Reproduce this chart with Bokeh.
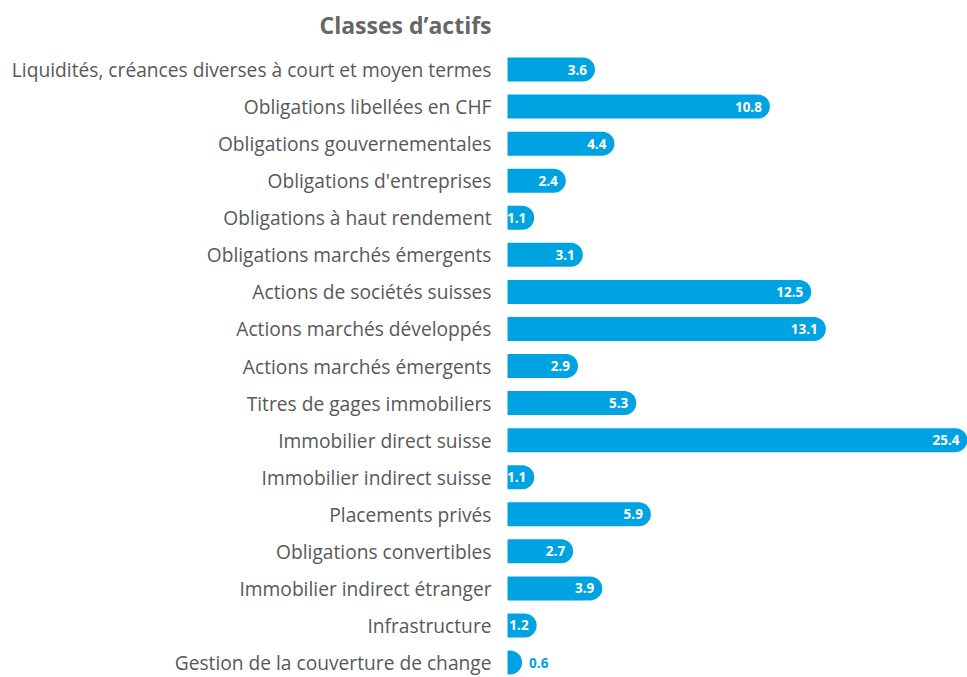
from bokeh.plotting import figure
from bokeh.models import ColumnDataSource, Range1d
from bokeh.core.properties import value
from bokeh.embed import file_html
from bokeh.resources import INLINE

categories = [
    "Liquidités, créances diverses à court et moyen termes",
    "Obligations libellées en CHF",
    "Obligations gouvernementales",
    "Obligations d'entreprises",
    "Obligations à haut rendement",
    "Obligations marchés émergents",
    "Actions de sociétés suisses",
    "Actions marchés développés",
    "Actions marchés émergents",
    "Titres de gages immobiliers",
    "Immobilier direct suisse",
    "Immobilier indirect suisse",
    "Placements privés",
    "Obligations convertibles",
    "Immobilier indirect étranger",
    "Infrastructure",
    "Gestion de la couverture de change",
]
values = [3.6, 10.8, 4.4, 2.4, 1.1, 3.1, 12.5, 13.1, 2.9, 5.3, 25.4, 1.1, 5.9, 2.7, 3.9, 1.2, 0.6]
title_text = "Classes d’actifs"

BLUE = "#00a3e1"
GREY = "#585858"
FONT = value("Open Sans")

n = len(categories)
ys = [n - 1 - i for i in range(n)]

ROW = 37.0625
X_START, X_END = -20.864, 18.93
Y_START, Y_END = -15 / ROW, 16 + 69 / ROW
shown = [min(v, X_END - 0.001) for v in values]
labels = [f"{v:.1f}" for v in values]

inside = [i for i in range(n) if values[i] >= 1.0]
outside = [i for i in range(n) if values[i] < 1.0]

bars = ColumnDataSource(dict(y=ys, x=shown))
cats = ColumnDataSource(dict(y=ys, t=categories))
src_in = ColumnDataSource(dict(y=[ys[i] for i in inside], x=[shown[i] for i in inside],
                               t=[labels[i] for i in inside]))
src_out = ColumnDataSource(dict(y=[ys[i] for i in outside], x=[shown[i] for i in outside],
                                t=[labels[i] for i in outside]))

p = figure(width=967, height=677, output_backend="svg", toolbar_location=None,
           x_range=Range1d(X_START, X_END), y_range=Range1d(Y_START, Y_END),
           min_border=0)

p.hbar(y="y", right="x", left=0, height=24 / ROW, source=bars, fill_color=BLUE,
       line_color=None, border_radius=[0, 12, 12, 0])

p.text(x="x", y="y", text="t", source=src_in, x_offset=-8, text_align="right",
       text_baseline="middle", text_color="white", text_font=FONT,
       text_font_style="bold", text_font_size="13.5px")
p.text(x="x", y="y", text="t", source=src_out, x_offset=7, text_align="left",
       text_baseline="middle", text_color=BLUE, text_font=FONT,
       text_font_style="bold", text_font_size="13.5px")

p.text(x=0, y="y", text="t", source=cats, x_offset=-16, text_align="right",
       text_baseline="middle", text_color=GREY, text_font=FONT,
       text_font_size="19.2px")

p.text(x=[0], y=[ys[0] + 45 / ROW], text=[title_text], x_offset=-16, text_align="right",
       text_baseline="middle", text_color="#666666", text_font=FONT,
       text_font_style="bold", text_font_size="23px")

p.xaxis.visible = False
p.yaxis.visible = False
p.xgrid.visible = False
p.ygrid.visible = False
p.outline_line_color = None

open("out.html", "w").write(file_html(p, INLINE))
